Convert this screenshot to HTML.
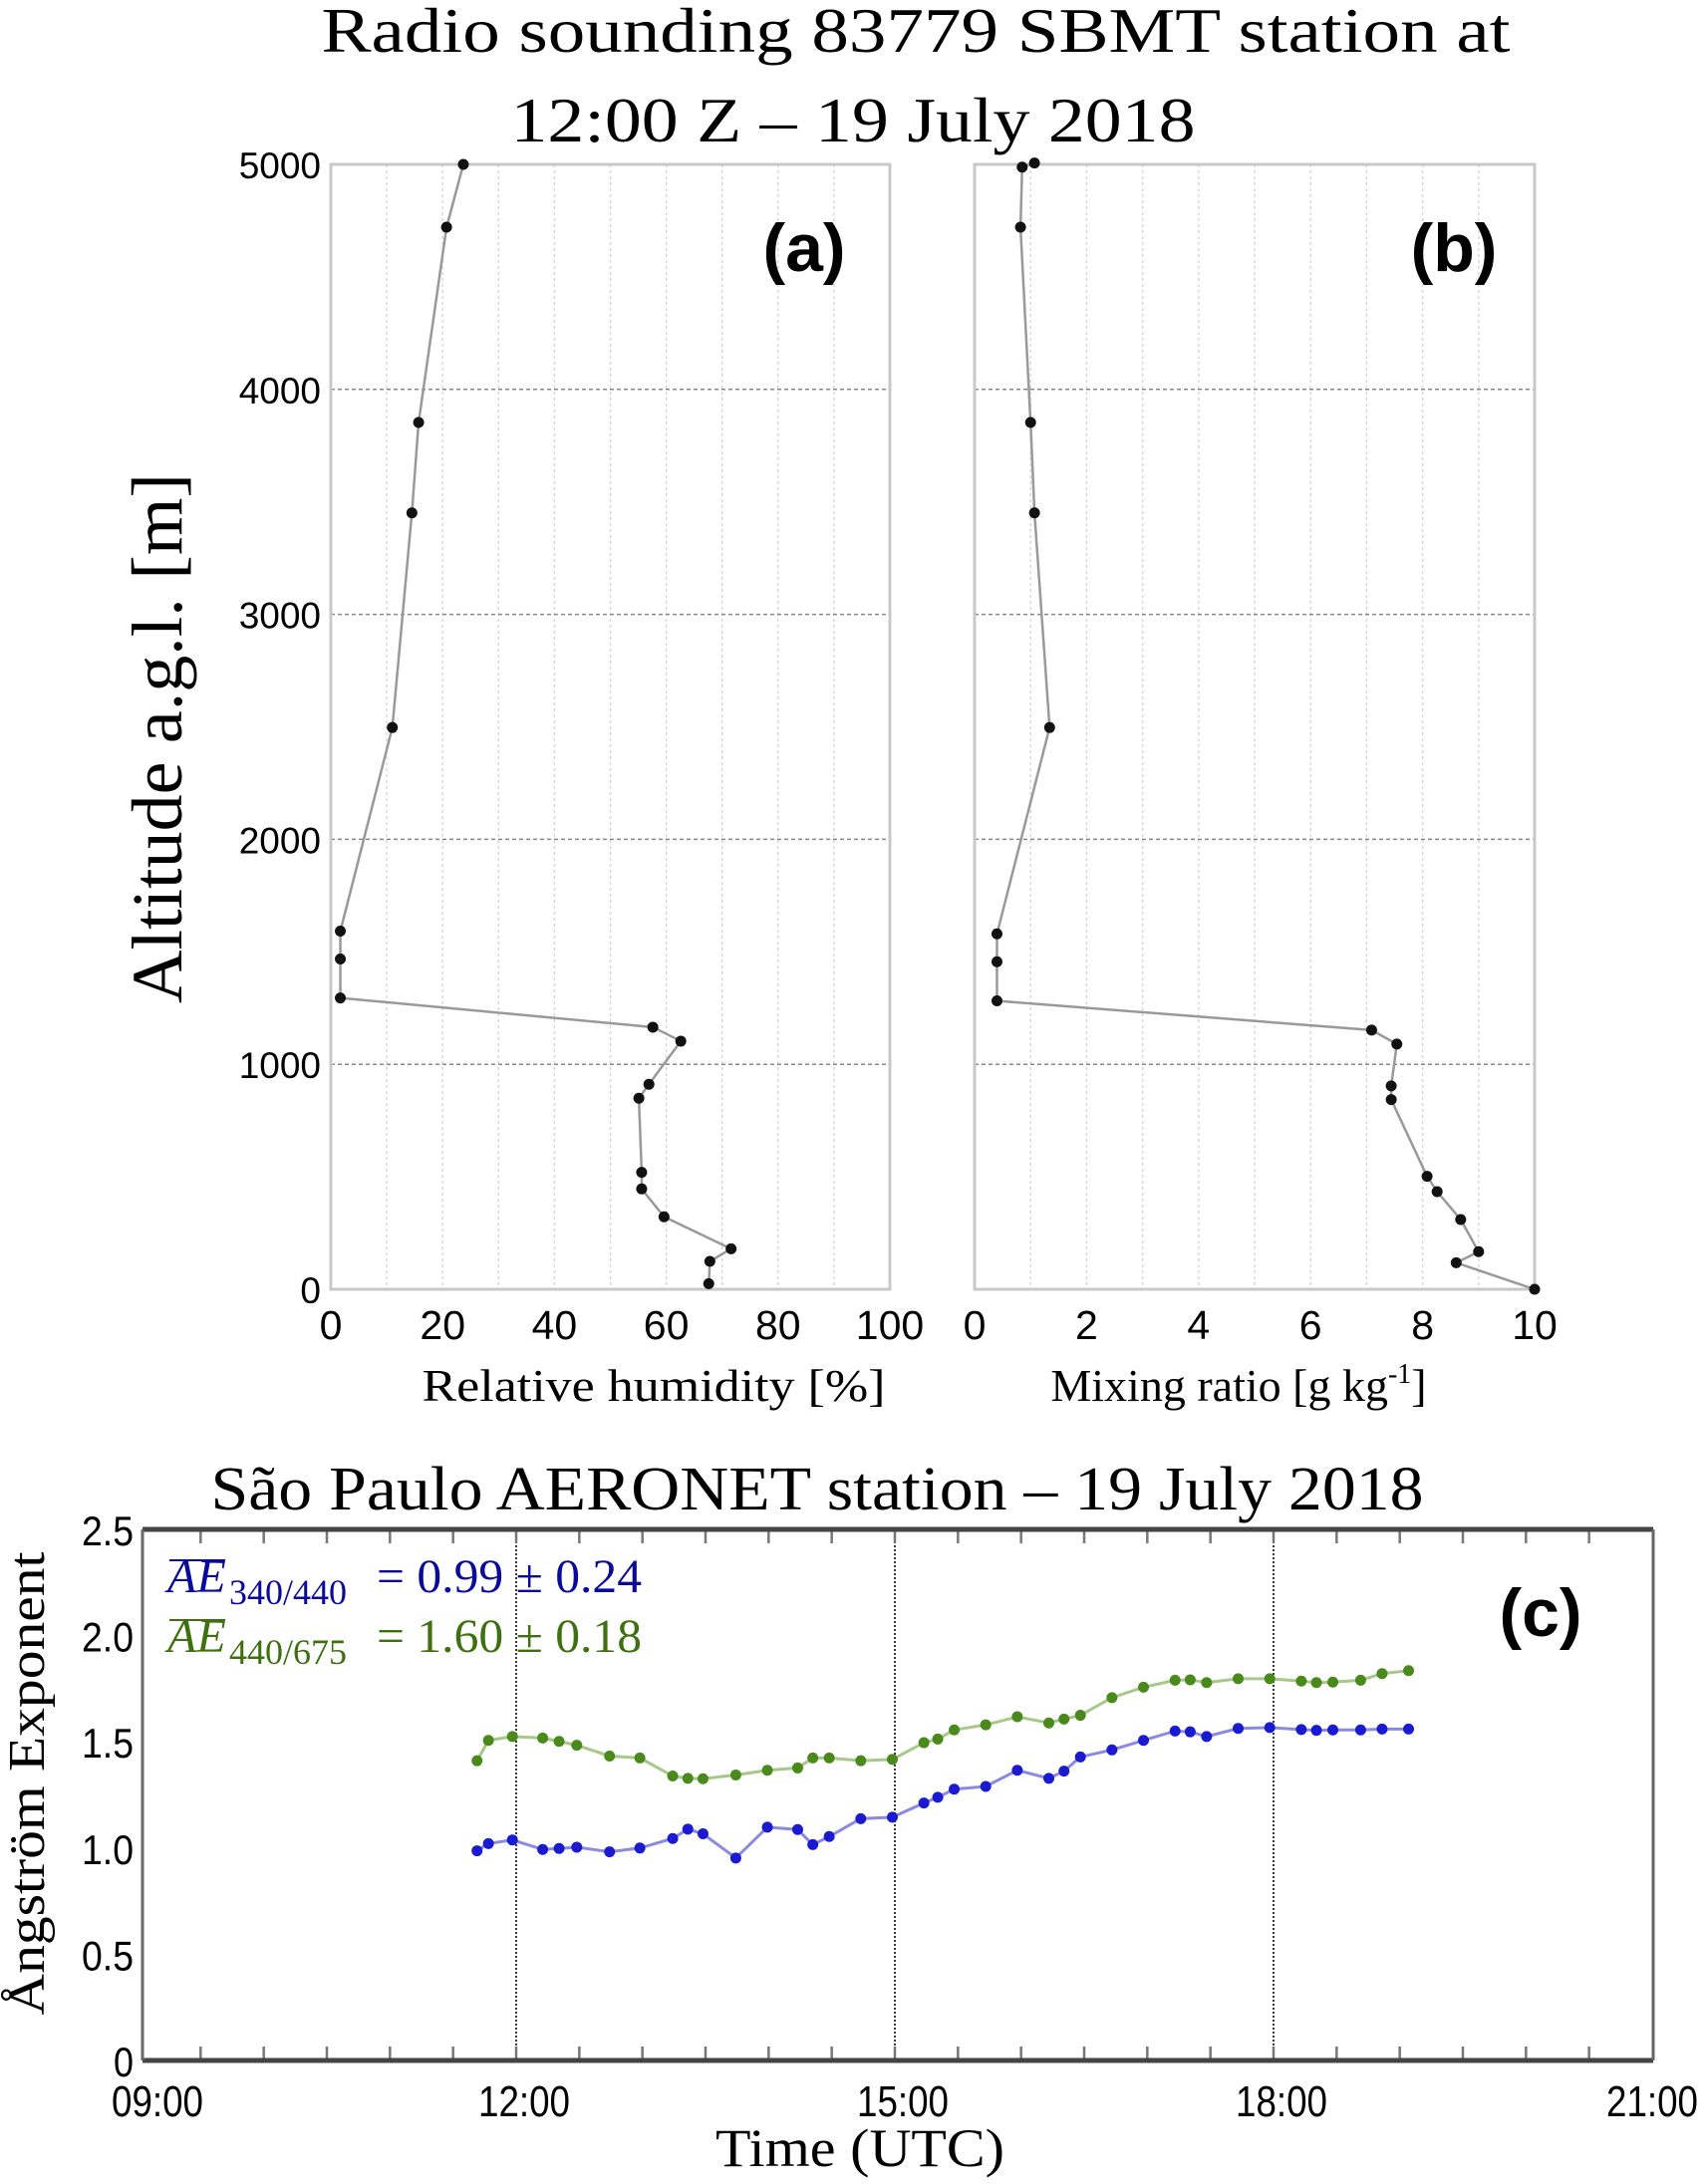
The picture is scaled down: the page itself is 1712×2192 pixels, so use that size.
<!DOCTYPE html>
<html><head><meta charset="utf-8">
<style>
html,body{margin:0;padding:0;background:#fff;}
svg{display:block;}
.serif{font-family:"Liberation Serif",serif;}
.sans{font-family:"Liberation Sans",sans-serif;}
</style></head>
<body>
<svg id="fig" xmlns="http://www.w3.org/2000/svg" width="1712" height="2192" viewBox="0 0 1712 2192">
<text class="serif" x="919" y="52" font-size="64" text-anchor="middle" textLength="1193" lengthAdjust="spacingAndGlyphs">Radio sounding 83779 SBMT station at</text>
<text class="serif" x="856" y="142" font-size="64" text-anchor="middle" textLength="687" lengthAdjust="spacingAndGlyphs">12:00 Z – 19  July 2018</text>
<text class="serif" transform="translate(182,741) rotate(-90)" font-size="72" text-anchor="middle" textLength="532" lengthAdjust="spacingAndGlyphs">Altitude a.g.l. [m]</text>
<g id="pa"></g>
<g id="pb"></g>
<text class="serif" x="656" y="1406" font-size="46" text-anchor="middle" textLength="465" lengthAdjust="spacingAndGlyphs">Relative humidity [%]</text>
<text class="serif" x="1243" y="1406" font-size="46" text-anchor="middle">Mixing ratio [g kg<tspan font-size="28" dy="-18">-1</tspan><tspan dy="18">]</tspan></text>
<text class="sans" x="807" y="272" font-size="68" font-weight="bold" text-anchor="middle">(a)</text>
<text class="sans" x="1459" y="272" font-size="68" font-weight="bold" text-anchor="middle">(b)</text>

<text class="serif" x="820" y="1515" font-size="62" text-anchor="middle" textLength="1217" lengthAdjust="spacingAndGlyphs">São Paulo AERONET  station  – 19  July 2018</text>
<g id="pc"></g>
<text class="serif" transform="translate(44,1790) rotate(-90)" font-size="52" text-anchor="middle" textLength="465" lengthAdjust="spacingAndGlyphs">Ångström  Exponent</text>
<text class="serif" x="863" y="2174" font-size="54" text-anchor="middle" textLength="290" lengthAdjust="spacingAndGlyphs">Time (UTC)</text>
<g fill="#0a0a9a" font-family="Liberation Serif,serif">
<line x1="170" y1="1566" x2="226" y2="1566" stroke="#0a0a9a" stroke-width="2"/>
<text x="168" y="1598" font-size="48" font-style="italic">AE</text>
<text x="230" y="1610" font-size="36">340/440</text>
<text x="378" y="1598" font-size="48" textLength="266" lengthAdjust="spacingAndGlyphs">= 0.99 ± 0.24</text>
</g>
<g fill="#3f7010" font-family="Liberation Serif,serif">
<line x1="170" y1="1626" x2="226" y2="1626" stroke="#3f7010" stroke-width="2"/>
<text x="168" y="1658" font-size="48" font-style="italic">AE</text>
<text x="230" y="1670" font-size="36">440/675</text>
<text x="378" y="1658" font-size="48" textLength="266" lengthAdjust="spacingAndGlyphs">= 1.60 ± 0.18</text>
</g>
<text class="sans" x="1546" y="1642" font-size="68" font-weight="bold" text-anchor="middle">(c)</text>
</svg>
<script>
// ---- panel a/b data ----
const rhValues = [23.7,20.7,15.7,14.5,11,1.7,1.7,1.7,57.6,62.6,56.9,55.1,55.6,55.6,59.6,71.6,67.8,67.6];
const rhAltitudes = [5000,4721,3853,3451,2497,1592,1468,1295,1165,1103,911,849,520,446,322,180,124,25];
const mrValues = [1.07,0.85,0.82,1.0,1.07,1.34,0.4,0.4,0.4,7.09,7.54,7.44,7.44,8.08,8.26,8.68,9.0,8.6,10];
const mrAltitudes = [5006,4988,4721,3853,3451,2497,1580,1456,1282,1152,1090,904,843,502,434,310,167,118,0];
const altTicks = [0,1000,2000,3000,4000,5000];
const rhTicks = [0,20,40,60,80,100];
const mrTicks = [0,2,4,6,8,10];
// ---- panel c data ----
const timeBlue = [11.69,11.78,11.97,12.21,12.34,12.48,12.74,12.98,13.24,13.36,13.48,13.74,13.99,14.23,14.35,14.48,14.73,14.98,15.23,15.34,15.47,15.72,15.97,16.22,16.34,16.47,16.72,16.97,17.22,17.34,17.47,17.72,17.97,18.22,18.34,18.47,18.69,18.86,19.07];
const ae340 = [0.987,1.021,1.038,0.993,0.998,1.004,0.982,1.0,1.045,1.089,1.067,0.953,1.098,1.087,1.016,1.054,1.138,1.145,1.212,1.239,1.277,1.29,1.366,1.328,1.362,1.429,1.462,1.507,1.551,1.547,1.525,1.563,1.567,1.558,1.554,1.556,1.556,1.56,1.56];
const timeGreen = timeBlue;
const ae440 = [1.411,1.507,1.525,1.518,1.502,1.484,1.433,1.424,1.339,1.328,1.326,1.344,1.366,1.377,1.424,1.424,1.411,1.417,1.496,1.513,1.556,1.58,1.618,1.589,1.607,1.625,1.708,1.757,1.79,1.792,1.779,1.797,1.797,1.786,1.779,1.781,1.79,1.821,1.835];
const aeTicks = [0,0.5,1.0,1.5,2.0,2.5];
const aeTickLabels = ['0','0.5','1.0','1.5','2.0','2.5'];
const timeTicks = [9,12,15,18,21];
const timeTickLabels = ['09:00','12:00','15:00','18:00','21:00'];

const NS = 'http://www.w3.org/2000/svg';
function mk(parent, tag, attrs, text){
  const e = document.createElementNS(NS, tag);
  for (const k in attrs) e.setAttribute(k, attrs[k]);
  if (text !== undefined) e.textContent = text;
  parent.appendChild(e);
  return e;
}
const yAlt = a => 1294 - a/5000*(1294-165);

function profile(gid, x0, x1, xmax, xs, ys, xticks, showY, nameKey){
  const g = document.getElementById(gid);
  const X = v => x0 + v/xmax*(x1-x0);
  for (let i=1;i<10;i++){
    const l = mk(g,'line',{x1:X(xmax*i/10),x2:X(xmax*i/10),y1:165,y2:1294,stroke:'#d8d8d8','stroke-width':1.5,'stroke-dasharray':'3,3'});
    
    
  }
  altTicks.forEach(a=>{
    if (a>0 && a<5000){
      const l = mk(g,'line',{x1:x0,x2:x1,y1:yAlt(a),y2:yAlt(a),stroke:'#888','stroke-width':1.5,'stroke-dasharray':'4,3'});
      
      
    }
    if (showY){
      const t = mk(g,'text',{x:322,y:yAlt(a)+14,'font-size':37,'text-anchor':'end','font-family':'Liberation Sans, sans-serif'},String(a));
      
      
    }
  });
  const fr = mk(g,'rect',{x:x0,y:165,width:x1-x0,height:1294-165,fill:'none',stroke:'#c8c8c8','stroke-width':3});
  
  
  xticks.forEach(v=>{
    const t = mk(g,'text',{x:X(v),y:1344,'font-size':41,'text-anchor':'middle','font-family':'Liberation Sans, sans-serif'},String(v));
    
    
  });
  const pts = xs.map((v,i)=>X(v)+','+yAlt(ys[i])).join(' ');
  const pl = mk(g,'polyline',{points:pts,fill:'none',stroke:'#999','stroke-width':2.5});
  
  
  xs.forEach((v,i)=>{
    const c = mk(g,'circle',{cx:X(v),cy:yAlt(ys[i]),r:5.5,fill:'#111'});
    
    
  });
}
profile('pa',332,893,100,rhValues,rhAltitudes,rhTicks,true,'rh');
profile('pb',978,1540,10,mrValues,mrAltitudes,mrTicks,false,'mr');

(function(){
  const g = document.getElementById('pc');
  const L=143, R=1659, T=1535, B=2068;
  const X = t => 138 + (t-9)/12*(1658-138);
  const Y = v => B - v/2.5*(B-T);
  [12,15,18].forEach(t=>{
    const l = mk(g,'line',{x1:X(t),x2:X(t),y1:T,y2:B,stroke:'#222','stroke-width':1.8,'stroke-dasharray':'2,2'});
    
    
  });
  for (let t=9.5;t<21;t+=0.5){
    const a = mk(g,'line',{x1:X(t),x2:X(t),y1:T,y2:T+14,stroke:'#777','stroke-width':2.5});
    
    
    const b = mk(g,'line',{x1:X(t),x2:X(t),y1:B,y2:B-14,stroke:'#777','stroke-width':2.5});
    
    
  }
  const lt = mk(g,'line',{x1:L,x2:R,y1:T,y2:T,stroke:'#444','stroke-width':5});
  
  
  const lb = mk(g,'line',{x1:L,x2:R,y1:B,y2:B,stroke:'#444','stroke-width':5});
  
  
  const ll = mk(g,'line',{x1:L,x2:L,y1:T,y2:B,stroke:'#666','stroke-width':3});
  
  
  const lr = mk(g,'line',{x1:R,x2:R,y1:T,y2:B,stroke:'#666','stroke-width':3});
  
  
  aeTicks.forEach((v,i)=>{
    const t = mk(g,'text',{x:134,y:Y(v)+16,'font-size':42,'text-anchor':'end','font-family':'Liberation Sans, sans-serif',textLength:aeTickLabels[i].length>1?52:20,lengthAdjust:'spacingAndGlyphs'},aeTickLabels[i]);
    
    
  });
  timeTicks.forEach((v,i)=>{
    const t = mk(g,'text',{x:X(v)+(i==0?20:(i==4?0:8)),y:2124,'font-size':44,'text-anchor':'middle','font-family':'Liberation Sans, sans-serif',textLength:92,lengthAdjust:'spacingAndGlyphs'},timeTickLabels[i]);
    
    
  });
  function series(ts, vs, col, light, key){
    const pl = mk(g,'polyline',{points:ts.map((t,i)=>X(t)+','+Y(vs[i])).join(' '),fill:'none',stroke:light,'stroke-width':3});
    
    
    ts.forEach((t,i)=>{
      const c = mk(g,'circle',{cx:X(t),cy:Y(vs[i]),r:5.5,fill:col});
      
      
    });
  }
  series(timeGreen, ae440, '#4a8a1c', '#a6c98a', 'ae440-675');
  series(timeBlue, ae340, '#1a1ad0', '#8a8ae0', 'ae340-440');
})();
</script>
</body></html>
